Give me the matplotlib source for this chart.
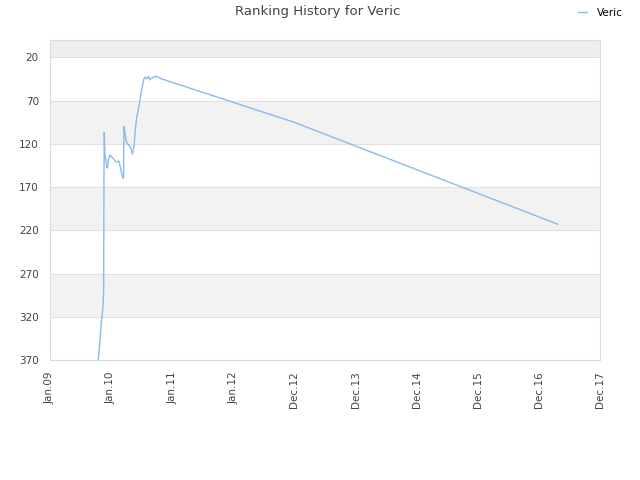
import matplotlib
matplotlib.use("Agg")
import matplotlib.pyplot as plt

# x = position on the (evenly spaced) date axis, 0 = Jan.09 ... 9 = Dec.17
tick_labels = ["Jan.09", "Jan.10", "Jan.11", "Jan.12", "Dec.12",
               "Dec.13", "Dec.14", "Dec.15", "Dec.16", "Dec.17"]
pos = [0.79, 0.81, 0.823, 0.84, 0.856, 0.872, 0.879, 0.884, 0.889, 0.90,
       0.928, 0.944, 0.954, 0.982, 1.036, 1.08, 1.129, 1.145, 1.173, 1.19,
       1.206, 1.211, 1.227, 1.255, 1.298, 1.325, 1.347, 1.375, 1.396, 1.419,
       1.461, 1.489, 1.517, 1.538, 1.56, 1.582, 1.609, 1.636, 1.664, 1.69,
       1.735, 1.772, 1.828, 3.99, 8.31]
rank = [370, 356, 343, 327, 318, 304, 289, 165, 107, 131,
        147, 148, 139, 133, 137, 141, 140, 145, 154, 159,
        160, 100, 108, 119, 122, 125, 132, 124, 104, 90,
        75, 62, 52, 45, 43, 45, 42, 46, 44, 43,
        42, 43, 45, 95, 213]
yticks = [20, 70, 120, 170, 220, 270, 320, 370]

fig = plt.figure(figsize=(6.4, 4.8), dpi=100)
ax = fig.add_axes([0.078, 0.25, 0.8595, 0.6667])

# alternating bands
ax.axhspan(0, 20, color="#eeeeee", zorder=0, lw=0)
for lo in [70, 170, 270]:
    ax.axhspan(lo, lo + 50, color="#f2f2f2", zorder=0, lw=0)
for t in yticks:
    ax.axhline(t, color="#e0e0e0", lw=0.8, zorder=1)

ax.plot(pos, rank, color="#88bbee", lw=1, label="Veric", zorder=3)

ax.set_xlim(0, 9)
ax.set_ylim(370, 0)
ax.set_xticks(range(len(tick_labels)))
ax.set_xticklabels(tick_labels, rotation=90, fontsize=7.5, color="#444444")
ax.set_yticks(yticks)
ax.set_yticklabels([str(t) for t in yticks], fontsize=7.5, color="#444444")
ax.tick_params(length=0, pad=8)
for s in ax.spines.values():
    s.set_color("#dcdcdc")
    s.set_linewidth(0.8)

fig.text(0.497, 0.975, "Ranking History for Veric", ha="center", va="center",
         fontsize=9.5, color="#444444")
ax.legend(loc="upper right", bbox_to_anchor=(1.058, 1.13), frameon=False,
          fontsize=7.5, handlelength=0.9, handletextpad=0.9)

fig.savefig("out.png", dpi=100)
